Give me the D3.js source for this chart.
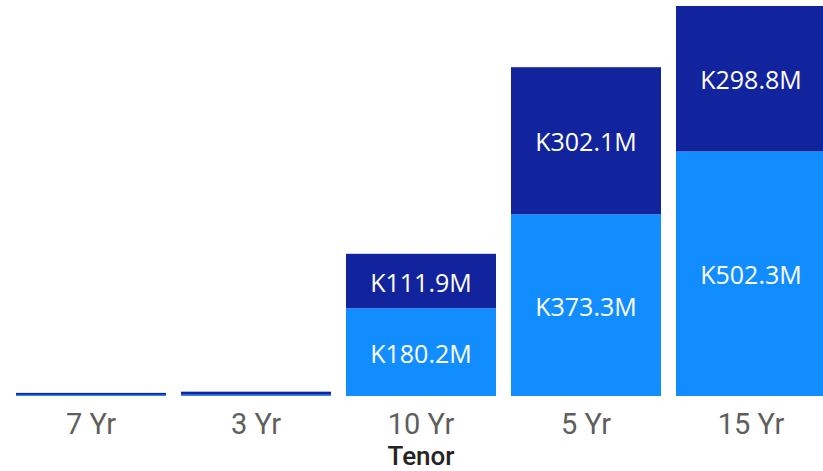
<!DOCTYPE html>
<html><head><meta charset="utf-8">
<script src="https://cdn.jsdelivr.net/npm/d3@7"></script>
<style>body{margin:0;background:#fff}svg{display:block}</style>
</head><body>
<svg id="c" width="823" height="471"></svg>
<script>
const categories = ["7 Yr", "3 Yr", "10 Yr", "5 Yr", "15 Yr"];
const lowerValues = [2.4, 2.7, 180.2, 373.3, 502.3];   // light series (M)
const upperValues = [4.0, 6.2, 111.9, 302.1, 298.8];   // dark series (M)
const axisTitle = "Tenor";

const svg = d3.select("#c");
const x = d3.scaleBand().domain(categories).range([8.5, 833.5])
  .paddingInner(15/165).paddingOuter(7.5/165);
const totals = categories.map((c,i)=>lowerValues[i]+upperValues[i]);
const y = d3.scaleLinear().domain([0, d3.max(totals)]).range([396, 6]);

const data = categories.map((c,i)=>({c, lo: lowerValues[i], up: upperValues[i]}));
const fmt = v => "K" + v.toFixed(1) + "M";

const g = svg.append("g");
g.selectAll("rect.lo").data(data).join("rect").attr("class","lo")
  .attr("x", d=>x(d.c)).attr("width", x.bandwidth())
  .attr("y", d=>y(d.lo)).attr("height", d=>y(0)-y(d.lo))
  .attr("fill", "#118DFF");
g.selectAll("rect.up").data(data).join("rect").attr("class","up")
  .attr("x", d=>x(d.c)).attr("width", x.bandwidth())
  .attr("y", d=>y(d.lo+d.up)).attr("height", d=>y(d.lo)-y(d.lo+d.up))
  .attr("fill", "#12239E");

const lblFont = "'Open Sans', 'Noto Sans', sans-serif";
function lbl(sel){
  sel.attr("text-anchor","middle").attr("dy","0.35em")
    .attr("fill","#fff").style("font-family", lblFont).style("font-size","25px");
}
g.selectAll("text.lo").data(data.filter(d=>y(0)-y(d.lo) > 30)).join("text")
  .attr("x", d=>x(d.c)+x.bandwidth()/2).attr("y", d=>(y(0)+y(d.lo))/2 + 2)
  .call(lbl).text(d=>fmt(d.lo));
g.selectAll("text.up").data(data.filter(d=>y(d.lo)-y(d.lo+d.up) > 30)).join("text")
  .attr("x", d=>x(d.c)+x.bandwidth()/2).attr("y", d=>(y(d.lo)+y(d.lo+d.up))/2 + 2)
  .call(lbl).text(d=>fmt(d.up));

const axisFont = "Roboto, 'Noto Sans', sans-serif";
const ax = svg.append("g").attr("transform","translate(0,396)")
  .call(d3.axisBottom(x).tickSize(0).tickPadding(0));
ax.select(".domain").remove();
ax.selectAll("text").attr("y", 37.5).attr("dy", null)
  .attr("fill","#605E5C").style("font-family", axisFont).style("font-size","29px");

svg.append("text").attr("x", 421).attr("y", 465).attr("text-anchor","middle")
  .attr("fill","#252423").style("font-family", axisFont).style("font-size","26px")
  .style("font-weight","500").text(axisTitle);
</script>
</body></html>
